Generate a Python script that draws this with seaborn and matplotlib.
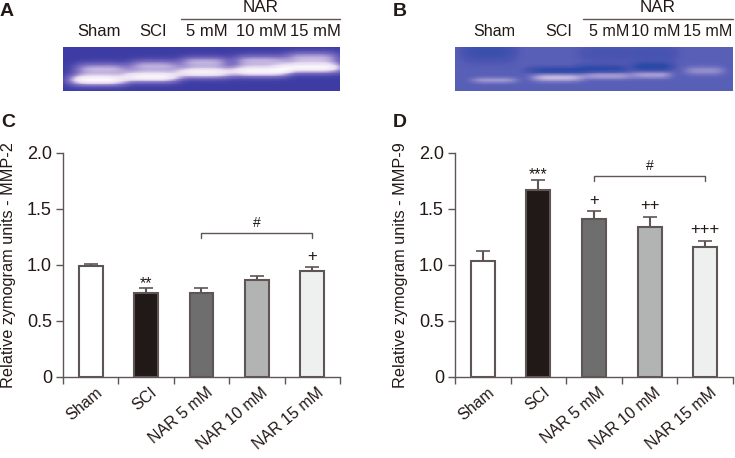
import matplotlib
matplotlib.use('Agg')
import matplotlib.pyplot as plt
import numpy as np
import seaborn as sns
from matplotlib.colors import LinearSegmentedColormap

W, H = 735, 458
INK = '#231815'
EDGE = '#5f5555'

groups = ['Sham', 'SCI', 'NAR 5 mM', 'NAR 10 mM', 'NAR 15 mM']
bar_colors = ['#ffffff', '#231815', '#6e6e6e', '#b2b4b4', '#eef0f0']
mmp2_mean = [0.99, 0.745, 0.745, 0.86, 0.94]
mmp2_err = [0.02, 0.05, 0.05, 0.035, 0.04]
mmp9_mean = [1.03, 1.67, 1.41, 1.34, 1.16]
mmp9_err = [0.09, 0.09, 0.07, 0.09, 0.055]
mmp2_marks = ['', '**', '', '', '+']
mmp9_marks = ['', '***', '+', '++', '+++']
y_ticks = [0, 0.5, 1.0, 1.5, 2.0]
y_ticklabels = ['0', '0.5', '1.0', '1.5', '2.0']

# gel bands: centre x, centre y, half width, half height, strength (fractions of the gel)
gel_a_bands = [
    (0.125, 0.75, 0.105, 0.13, 1.1), (0.14, 0.50, 0.10, 0.14, 0.62),
    (0.32, 0.68, 0.10, 0.13, 1.05), (0.33, 0.43, 0.09, 0.14, 0.6),
    (0.51, 0.58, 0.10, 0.13, 1.0), (0.51, 0.34, 0.09, 0.13, 0.6),
    (0.71, 0.55, 0.105, 0.13, 1.05), (0.71, 0.31, 0.095, 0.14, 0.6),
    (0.90, 0.47, 0.115, 0.13, 1.05), (0.90, 0.24, 0.10, 0.14, 0.6),
]
gel_b_bands = [
    (0.14, 0.76, 0.08, 0.07, 0.38), (0.37, 0.70, 0.09, 0.09, 0.62),
    (0.55, 0.66, 0.09, 0.08, 0.42), (0.71, 0.64, 0.07, 0.08, 0.42),
    (0.90, 0.54, 0.07, 0.10, 0.32),
    (0.37, 0.53, 0.10, 0.07, -0.5), (0.53, 0.49, 0.09, 0.08, -0.5),
    (0.71, 0.44, 0.07, 0.09, -0.6), (0.12, 0.10, 0.09, 0.20, -0.3),
    (0.55, 0.15, 0.10, 0.18, -0.12), (0.72, 0.15, 0.08, 0.18, -0.15),
]
gel_a_colors = ['#3c3ca4', '#8474c4', '#e8dcf0', '#ffffff']
gel_b_colors = ['#2a4aa6', '#4c55b2', '#9c94d0', '#ded4e8']


def px_axes(fig, left, top, right, bottom):
    return fig.add_axes([left / W, 1 - bottom / H, (right - left) / W, (bottom - top) / H])


def gel(fig, box, bands, colors, vmin, vmax):
    ax = px_axes(fig, *box)
    xx, yy = np.meshgrid(np.linspace(0, 1, 280), np.linspace(0, 1, 60))
    img = np.zeros_like(xx)
    for cx, cy, sx, sy, amp in bands:
        img += amp * np.exp(-((xx - cx) / sx) ** 4 - ((yy - cy) / sy) ** 2)
    cmap = LinearSegmentedColormap.from_list('gel', colors)
    sns.heatmap(img, cmap=cmap, vmin=vmin, vmax=vmax, cbar=False, ax=ax,
                xticklabels=False, yticklabels=False, rasterized=True)
    ax.set_xlabel('')
    ax.set_ylabel('')
    return ax


def gel_labels(fig, left, right, names, xs, size):
    for name, x in zip(names, xs):
        fig.text(x / W, 1 - 32 / H, name, ha='center', va='center', fontsize=size, color=INK)
    fig.add_artist(plt.Line2D([left / W, right / W], [1 - 19 / H] * 2, color=EDGE, lw=1))
    fig.text((left + right) / 2 / W, 1 - 8 / H, 'NAR', ha='center', va='center',
             fontsize=12.3, color=INK)


def bars(fig, box, means, errs, marks, ylabel, bracket_y):
    ax = px_axes(fig, *box)
    sns.barplot(x=groups, y=means, hue=groups, palette=bar_colors, width=0.43,
                edgecolor=EDGE, linewidth=1.5, legend=False, ax=ax, zorder=2)
    ax.errorbar(range(5), means, yerr=[[0] * 5, errs], fmt='none', ecolor=EDGE,
                elinewidth=1.5, capsize=5, capthick=1.2, zorder=1)
    ax.set_xlim(-0.5, 4.5)
    ax.set_ylim(0, 2.0)
    ax.set_yticks(y_ticks, y_ticklabels)
    ax.set_xticks(np.arange(6) - 0.5, [''] * 6)
    ax.set_xticks(np.arange(5) + 0.08, groups, minor=True, rotation=40, ha='right',
                  rotation_mode='anchor')
    ax.tick_params(axis='x', which='major', length=5, width=1, color=EDGE)
    ax.tick_params(axis='x', which='minor', length=0, pad=6, labelsize=11.5, labelcolor=INK)
    ax.tick_params(axis='y', length=5, width=1, color=EDGE, labelsize=13, labelcolor=INK, pad=3)
    ax.set_ylabel(ylabel, fontsize=11.7, color=INK, labelpad=8)
    sns.despine(ax=ax)
    for side in ['left', 'bottom']:
        ax.spines[side].set_color(EDGE)
        ax.spines[side].set_linewidth(1)

    for i, mark in enumerate(marks):
        if mark:
            top = means[i] + errs[i]
            if '*' in mark:
                ax.text(i, top + 0.04, mark, ha='center', va='center', fontsize=11.5, color=INK)
            else:
                ax.text(i, top + 0.095, mark, ha='center', va='center', fontsize=12, color=INK)

    ax.plot([2, 2, 4, 4], [bracket_y - 0.05, bracket_y, bracket_y, bracket_y - 0.05],
            color=EDGE, lw=1)
    ax.text(3, bracket_y + 0.09, '#', ha='center', va='center', fontsize=10, color=INK)
    return ax


def main():
    sns.set_theme(style='ticks')
    plt.rcParams['font.family'] = ['Liberation Sans', 'DejaVu Sans']

    fig = plt.figure(figsize=(W / 100, H / 100), dpi=100)

    gel(fig, (63, 47, 340, 91), gel_a_bands, gel_a_colors, 0, 1.2)
    gel(fig, (455, 47, 733, 91), gel_b_bands, gel_b_colors, -0.5, 0.8)
    gel_labels(fig, 181, 340, ['Sham', 'SCI', '5 mM', '10 mM', '15 mM'],
               [99, 153, 207, 261, 315], 12)
    gel_labels(fig, 583, 733, ['Sham', 'SCI', '5 mM', '10 mM', '15 mM'],
               [494, 559, 609, 656, 708], 11.6)

    bars(fig, (63, 152.7, 340, 376.7), mmp2_mean, mmp2_err, mmp2_marks,
         'Relative zymogram units - MMP-2', 1.286)
    bars(fig, (455, 152.7, 733, 376.7), mmp9_mean, mmp9_err, mmp9_marks,
         'Relative zymogram units - MMP-9', 1.795)

    for letter, x, y in [('A', 7, 11), ('B', 400, 11), ('C', 8, 122), ('D', 400, 122)]:
        fig.text(x / W, 1 - y / H, letter, ha='center', va='center', fontsize=14,
                 fontweight='bold', color=INK)

    fig.savefig('out.png', dpi=100)


if __name__ == '__main__':
    main()
